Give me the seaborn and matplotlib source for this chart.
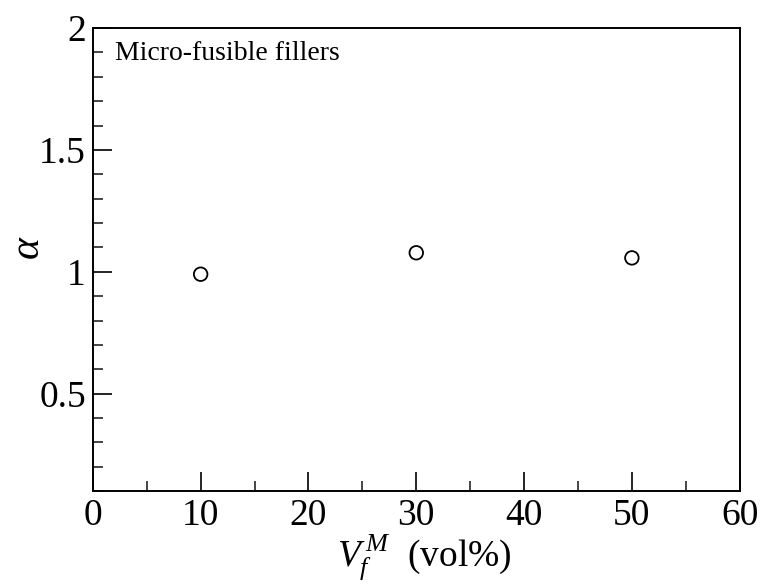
import matplotlib
matplotlib.use('Agg')
import numpy as np
import pandas as pd
import seaborn as sns
import matplotlib.pyplot as plt
from matplotlib.ticker import MultipleLocator

volume_fraction = [10, 30, 50]
alpha_values = [0.99, 1.078, 1.057]

data = pd.DataFrame({'Vf': volume_fraction, 'alpha': alpha_values})

sns.set_style('ticks')
plt.rcParams['font.family'] = ['Liberation Serif', 'DejaVu Serif']
plt.rcParams['text.color'] = 'black'
plt.rcParams['axes.labelcolor'] = 'black'
plt.rcParams['mathtext.fontset'] = 'custom'
plt.rcParams['mathtext.rm'] = 'Liberation Serif'
plt.rcParams['mathtext.it'] = 'Liberation Serif:italic'

fig, ax = plt.subplots(figsize=(7.61, 5.86), dpi=100)
fig.subplots_adjust(left=0.122, right=0.972, top=0.952, bottom=0.162)

sns.scatterplot(x='Vf', y='alpha', data=data, ax=ax, marker='o', s=95,
    facecolor='none', edgecolor='black', linewidth=1.3, zorder=3)

ax.set_xlim(0, 60)
ax.set_ylim(0.1, 2)
ax.xaxis.set_major_locator(MultipleLocator(10))
ax.xaxis.set_minor_locator(MultipleLocator(5))
ax.yaxis.set_minor_locator(MultipleLocator(0.1))
ax.set_yticks([0.5, 1, 1.5, 2])
ax.set_yticklabels(['0.5', '1', '1.5', '2'])

ax.tick_params(which='major', direction='in', length=14, width=1.2,
    labelsize=27, pad=5, top=False, right=False, colors='black')
ax.tick_params(which='minor', direction='in', length=7, width=1.2,
    top=False, right=False)

for spine in ax.spines.values():
    spine.set_linewidth(1.4)
    spine.set_color('black')

ax.set_xlabel(r'$V_f^{\,M}$  (vol%)', fontsize=27, labelpad=0, x=0.513)
ax.set_ylabel(r'$\alpha$', fontsize=30)
ax.yaxis.set_label_coords(-0.07, 0.525)

ax.text(0.035, 0.972, 'Micro-fusible fillers', transform=ax.transAxes,
    fontsize=20, va='top', ha='left')

fig.savefig('out.png', dpi=100)
